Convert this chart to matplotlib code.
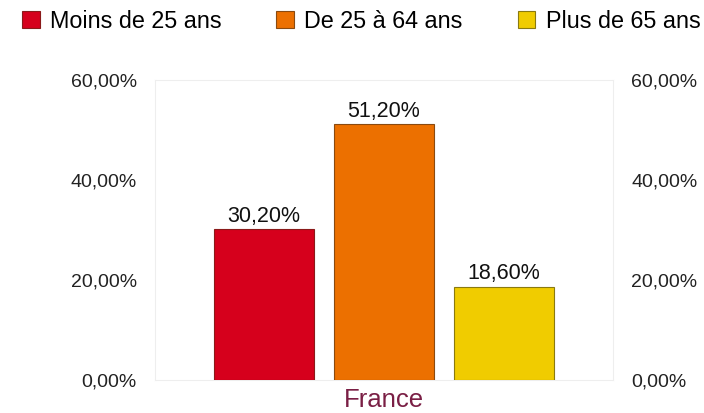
import matplotlib
matplotlib.use('Agg')
import matplotlib.pyplot as plt
from matplotlib.patches import Patch
from matplotlib.ticker import FuncFormatter

plt.rcParams.update({'font.family': ['Liberation Sans', 'DejaVu Sans']})

# data
series = ['Moins de 25 ans', 'De 25 à 64 ans', 'Plus de 65 ans']
values = [30.2, 51.2, 18.6]
category = 'France'
colors = ['#d6001c', '#ec7000', '#f0cc00']
edges = ['#8a1a1a', '#8a4a10', '#8a7a10']
yticks = [0, 20, 40, 60]

fig = plt.figure(figsize=(7.04, 4.13), dpi=100)
ax = fig.add_axes([155/704, 1 - 380/413, 458/704, 300/413])

x = [-1, 0, 1]
bars = ax.bar(x, values, width=0.833, color=colors, edgecolor=edges, linewidth=0.8, zorder=3)
for b, v in zip(bars, values):
    ax.text(b.get_x() + b.get_width()/2, v + 0.5, f'{v:.2f}%'.replace('.', ','),
            ha='center', va='bottom', fontsize=15.5, color='#111111')

ax.set_xlim(-1.908, 1.908)
ax.set_ylim(0, 60)
ax.set_yticks(yticks)
fmt = FuncFormatter(lambda v, p: f'{v:.2f}%'.replace('.', ','))
ax.yaxis.set_major_formatter(fmt)
ax.tick_params(axis='y', length=0, pad=13, labelsize=14, labelcolor='#222222',
               right=True, labelright=True)
ax.set_xticks([0])
ax.set_xticklabels([category], fontsize=18.5, color='#7a1f45')
ax.tick_params(axis='x', length=0, pad=6)
for s in ax.spines.values():
    s.set_color('#eeeeee')
    s.set_linewidth(0.8)

handles = [Patch(facecolor=c, edgecolor=e, linewidth=0.8) for c, e in zip(colors, edges)]
fig.legend(handles, series, loc='upper left', bbox_to_anchor=(22/704, 1 - 10/413), ncol=3,
           frameon=False, fontsize=16.8, handlelength=0.75, handleheight=0.75,
           handletextpad=0.45, columnspacing=2.35, borderpad=0, borderaxespad=0)

fig.savefig('out.png', dpi=100, facecolor='white')
